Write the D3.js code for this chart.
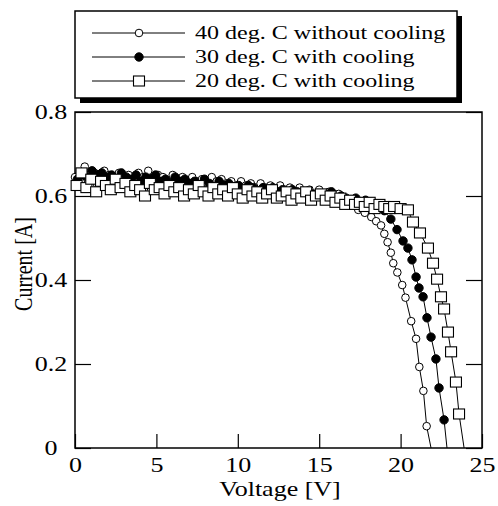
<!DOCTYPE html>
<html>
<head>
<meta charset="utf-8">
<script src="https://cdn.jsdelivr.net/npm/d3@7"></script>
<style>
  body { margin: 0; background: #fff; }
  svg { display: block; font-family: "Liberation Serif", "Times New Roman", serif; }
</style>
</head>
<body>
<div id="chart"></div>
<script>
// 40 deg. C without cooling (open circles)
const volt40 = [0.0,0.3,0.6,0.9,1.2,1.5,1.8,2.1,2.4,2.7,
  3.0,3.3,3.6,3.9,4.2,4.5,4.8,5.1,5.4,5.7,
  6.0,6.3,6.6,6.9,7.2,7.5,7.8,8.1,8.4,8.7,
  9.0,9.3,9.6,9.9,10.2,10.5,10.8,11.1,11.4,11.7,
  12.0,12.3,12.6,12.9,13.2,13.5,13.8,14.1,14.4,14.7,
  15.0,15.3,15.6,15.9,16.2,16.5,16.8,17.1,17.4,
  17.8,18.2,18.5,18.8,19.0,19.2,19.4,19.55,19.8,20.1,20.3,20.65,20.95,21.15,21.4,21.6,21.87];
const curr40 = [0.645,0.655,0.67,0.65,0.655,0.645,0.66,0.65,0.64,0.655,
  0.645,0.65,0.64,0.655,0.645,0.66,0.64,0.65,0.645,0.635,
  0.65,0.64,0.645,0.63,0.645,0.635,0.64,0.63,0.645,0.635,
  0.64,0.63,0.635,0.625,0.635,0.625,0.63,0.62,0.63,0.62,
  0.625,0.615,0.625,0.615,0.62,0.61,0.62,0.61,0.615,0.605,
  0.615,0.605,0.61,0.6,0.605,0.595,0.59,0.58,0.567,
  0.56,0.55,0.54,0.53,0.51,0.49,0.465,0.44,0.418,0.388,0.358,0.302,0.26,0.193,0.136,0.052,0];

// 30 deg. C with cooling (filled circles)
const volt30 = [0.15,0.45,0.75,1.05,1.35,1.65,1.95,2.25,2.55,2.85,
  3.15,3.45,3.75,4.05,4.35,4.65,4.95,5.25,5.55,5.85,
  6.15,6.45,6.75,7.05,7.35,7.65,7.95,8.25,8.55,8.85,
  9.15,9.45,9.75,10.05,10.35,10.65,10.95,11.25,11.55,11.85,
  12.15,12.45,12.75,13.05,13.35,13.65,13.95,14.25,14.55,14.85,
  15.15,15.45,15.75,16.05,16.35,16.65,16.95,17.25,17.55,17.85,
  18.15,
  18.6,19.0,19.4,19.78,20.15,20.45,20.7,20.95,21.13,21.38,21.62,21.87,22.17,22.36,22.67,22.85];
const curr30 = [0.64,0.65,0.645,0.66,0.65,0.655,0.645,0.65,0.64,0.655,
  0.645,0.64,0.65,0.635,0.645,0.64,0.65,0.635,0.64,0.63,
  0.645,0.635,0.64,0.63,0.635,0.625,0.64,0.63,0.62,0.635,
  0.625,0.63,0.62,0.625,0.615,0.625,0.62,0.61,0.62,0.615,
  0.62,0.61,0.615,0.605,0.615,0.61,0.6,0.61,0.605,0.6,
  0.605,0.6,0.61,0.595,0.6,0.595,0.59,0.595,0.585,0.59,
  0.585,
  0.58,0.565,0.545,0.52,0.493,0.476,0.448,0.407,0.381,0.36,0.31,0.264,0.212,0.143,0.067,0];

// 20 deg. C with cooling (open squares)
const volt20 = [0.1,0.4,0.7,1.0,1.3,1.6,1.9,2.2,2.5,2.8,
  3.1,3.4,3.7,4.0,4.3,4.6,4.9,5.2,5.5,5.8,
  6.1,6.4,6.7,7.0,7.3,7.6,7.9,8.2,8.5,8.8,
  9.1,9.4,9.7,10.0,10.3,10.6,10.9,11.2,11.5,11.8,
  12.1,12.4,12.7,13.0,13.3,13.6,13.9,14.2,14.5,14.8,
  15.1,15.4,15.7,16.0,16.3,16.6,16.9,17.2,17.5,17.8,
  18.1,18.4,18.7,19.0,19.3,19.6,
  20.0,20.45,20.76,21.19,21.68,21.99,22.24,22.48,22.67,22.91,23.1,23.4,23.59,23.9];
const curr20 = [0.625,0.655,0.62,0.64,0.61,0.635,0.625,0.615,0.64,0.62,
  0.63,0.61,0.625,0.615,0.6,0.63,0.615,0.62,0.605,0.625,
  0.61,0.62,0.6,0.615,0.605,0.625,0.61,0.6,0.62,0.605,
  0.615,0.6,0.62,0.605,0.595,0.615,0.6,0.61,0.595,0.605,
  0.615,0.595,0.6,0.61,0.59,0.605,0.595,0.61,0.59,0.6,
  0.605,0.59,0.6,0.585,0.595,0.58,0.59,0.58,0.585,0.575,
  0.585,0.57,0.58,0.575,0.57,0.575,
  0.57,0.567,0.538,0.512,0.476,0.44,0.402,0.36,0.331,0.276,0.229,0.157,0.081,0];

const seriesNames = ["40 deg. C without cooling", "30 deg. C with cooling", "20 deg. C with cooling"];
const xTicks = [0, 5, 10, 15, 20, 25];
const yTicks = [0, 0.2, 0.4, 0.6, 0.8];

const W = 498, H = 506;
const plot = { left: 75, right: 482, top: 112, bottom: 448 };
const stretch = 1.3; // text in the source is drawn wide

const svg = d3.select("#chart").append("svg")
  .attr("width", W).attr("height", H);

const x = d3.scaleLinear().domain([0, 25]).range([plot.left, plot.right]);
const y = d3.scaleLinear().domain([0, 0.8]).range([plot.bottom, plot.top]);

const series = [
  { name: seriesNames[0], marker: "openCircle", pts: volt40.map((v, i) => ({ v, c: curr40[i] })) },
  { name: seriesNames[1], marker: "dot", pts: volt30.map((v, i) => ({ v, c: curr30[i] })) },
  { name: seriesNames[2], marker: "square", pts: volt20.map((v, i) => ({ v, c: curr20[i] })) },
];

function drawMarker(sel, type) {
  if (type === "square") {
    sel.append("rect")
      .attr("x", -5.5).attr("y", -5).attr("width", 11).attr("height", 10)
      .attr("fill", "#fff").attr("stroke", "#000").attr("stroke-width", 1.1);
  } else {
    sel.append("circle")
      .attr("r", type === "dot" ? 4.2 : 3.8)
      .attr("fill", type === "dot" ? "#000" : "#fff")
      .attr("stroke", "#000").attr("stroke-width", 1);
  }
}

// Frame and axes
const xAxis = svg.append("g")
  .attr("transform", `translate(0,${plot.bottom})`)
  .call(d3.axisBottom(x).tickValues(xTicks).tickSize(-14).tickPadding(10));
xAxis.select(".domain").remove();
xAxis.selectAll("line").attr("stroke-width", 1.2);
xAxis.selectAll("text")
  .attr("font-size", 20).attr("font-family", "Liberation Serif")
  .attr("transform", `scale(${stretch},1)`);

const yAxis = svg.append("g")
  .attr("transform", `translate(${plot.left},0)`)
  .call(d3.axisLeft(y).tickValues(yTicks).tickSize(-16).tickFormat(d => d === 0 ? "0" : d3.format(".1f")(d)));
yAxis.select(".domain").remove();
yAxis.selectAll("line").attr("stroke-width", 1.2);
yAxis.selectAll("text")
  .attr("font-size", 20).attr("font-family", "Liberation Serif")
  .attr("text-anchor", "middle")
  .attr("x", -24 / stretch)
  .attr("transform", `scale(${stretch},1)`);

const yAxisR = svg.append("g")
  .attr("transform", `translate(${plot.right},0)`)
  .call(d3.axisRight(y).tickValues(yTicks).tickSize(-16).tickFormat(""));
yAxisR.select(".domain").remove();
yAxisR.selectAll("line").attr("stroke-width", 1.2);

svg.append("rect")
  .attr("x", plot.left).attr("y", plot.top)
  .attr("width", plot.right - plot.left).attr("height", plot.bottom - plot.top)
  .attr("fill", "none").attr("stroke", "#000").attr("stroke-width", 1.5);

// Series
const line = d3.line().x(d => x(d.v)).y(d => y(d.c));
series.forEach(s => {
  svg.append("path").datum(s.pts)
    .attr("d", line).attr("fill", "none")
    .attr("stroke", "#000").attr("stroke-width", 1);
});
series.forEach(s => {
  const g = svg.append("g");
  s.pts.filter(d => d.c > 0).forEach(d => {
    const m = g.append("g").attr("transform", `translate(${x(d.v)},${y(d.c)})`);
    drawMarker(m, s.marker);
  });
});

// Axis titles
svg.append("text")
  .attr("transform", `translate(280,496) scale(${stretch},1)`)
  .attr("text-anchor", "middle").attr("font-size", 20)
  .text("Voltage [V]");
svg.append("text")
  .attr("transform", `translate(32,264) scale(${stretch},1) rotate(-90)`)
  .attr("text-anchor", "middle").attr("font-size", 20)
  .text("Current [A]");

// Legend with drop shadow
const lg = { x: 75, y: 11, w: 382, h: 87 };
svg.append("rect")
  .attr("x", lg.x + 5).attr("y", lg.y + 5).attr("width", lg.w).attr("height", lg.h)
  .attr("fill", "#000");
svg.append("rect")
  .attr("x", lg.x).attr("y", lg.y).attr("width", lg.w).attr("height", lg.h)
  .attr("fill", "#fff").attr("stroke", "#000").attr("stroke-width", 1.5);

series.forEach((s, i) => {
  const cy = 33 + i * 24;
  svg.append("line")
    .attr("x1", 92).attr("x2", 185).attr("y1", cy).attr("y2", cy)
    .attr("stroke", "#000").attr("stroke-width", 1);
  const m = svg.append("g").attr("transform", `translate(139,${cy})`);
  drawMarker(m, s.marker);
  svg.append("text")
    .attr("transform", `translate(195,${cy + 6}) scale(${stretch},1)`)
    .attr("font-size", 18.5)
    .text(s.name);
});
</script>
</body>
</html>
